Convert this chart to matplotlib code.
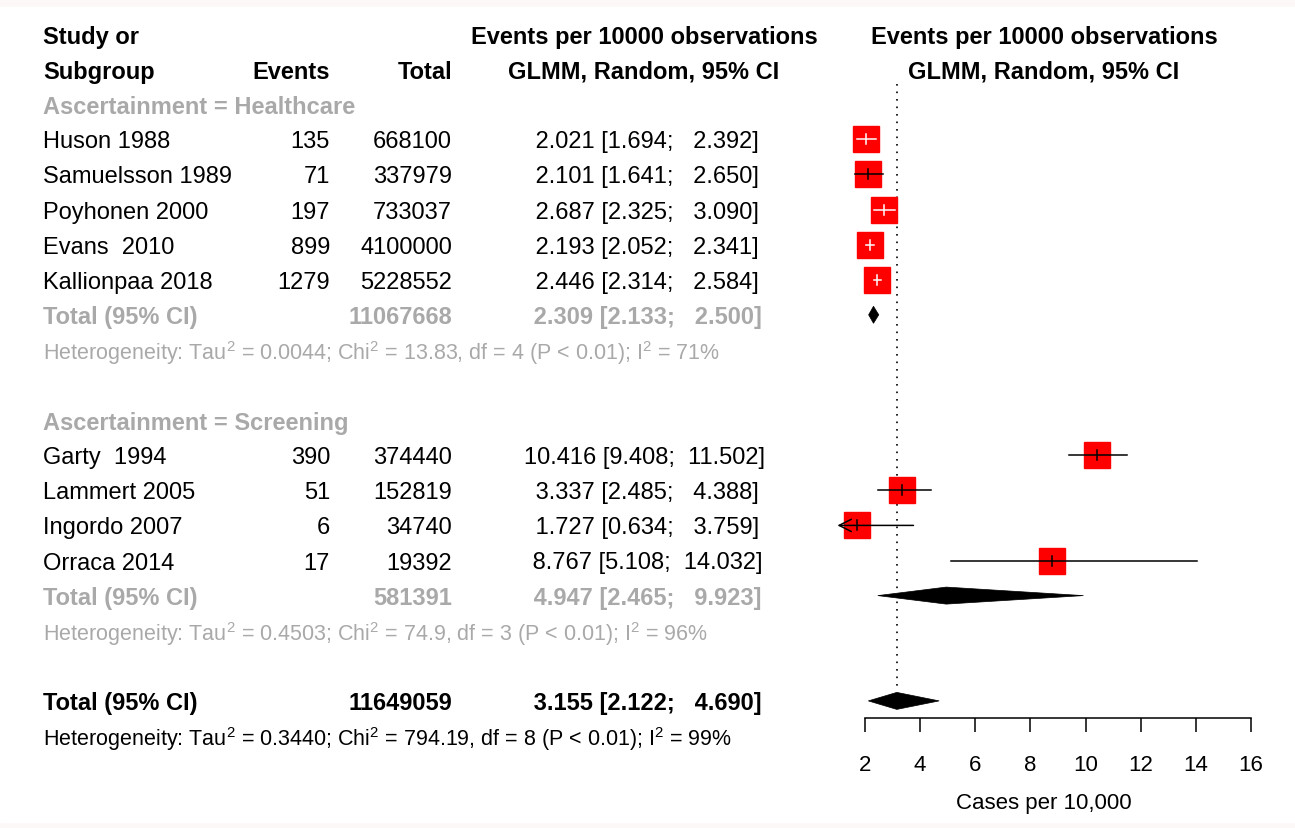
import matplotlib
matplotlib.use("Agg")
import matplotlib.pyplot as plt
from matplotlib import patches

plt.rcParams['font.family'] = ['Liberation Sans', 'DejaVu Sans']
plt.rcParams['mathtext.fontset'] = 'custom'
plt.rcParams['mathtext.rm'] = 'Liberation Sans'
plt.rcParams['mathtext.it'] = 'Liberation Sans'

GRAY = '#a9a9a9'

# data
groups = ["Healthcare", "Screening"]
studies = [
    ["Huson 1988", "Samuelsson 1989", "Poyhonen 2000", "Evans  2010", "Kallionpaa 2018"],
    ["Garty  1994", "Lammert 2005", "Ingordo 2007", "Orraca 2014"],
]
events = [[135, 71, 197, 899, 1279], [390, 51, 6, 17]]
totals = [[668100, 337979, 733037, 4100000, 5228552], [374440, 152819, 34740, 19392]]
est = [[2.021, 2.101, 2.687, 2.193, 2.446], [10.416, 3.337, 1.727, 8.767]]
lower = [[1.694, 1.641, 2.325, 2.052, 2.314], [9.408, 2.485, 0.634, 5.108]]
upper = [[2.392, 2.650, 3.090, 2.341, 2.584], [11.502, 4.388, 3.759, 14.032]]

sub_total_n = [11067668, 581391]
sub_est = [2.309, 4.947]
sub_lower = [2.133, 2.465]
sub_upper = [2.500, 9.923]
sub_het = [
    r"Heterogeneity: Tau$^2$ = 0.0044; Chi$^2$ = 13.83, df = 4 (P < 0.01); I$^2$ = 71%",
    r"Heterogeneity: Tau$^2$ = 0.4503; Chi$^2$ = 74.9, df = 3 (P < 0.01); I$^2$ = 96%",
]
all_n = 11649059
all_est, all_lower, all_upper = 3.155, 2.122, 4.690
all_het = r"Heterogeneity: Tau$^2$ = 0.3440; Chi$^2$ = 794.19, df = 8 (P < 0.01); I$^2$ = 99%"

xticks = [2, 4, 6, 8, 10, 12, 14, 16]
xmin, xmax = 1, 16

W, H = 1295, 829
fig = plt.figure(figsize=(W / 100, H / 100), dpi=100)
fig.patch.set_facecolor('#fcf8f7')
bg = fig.add_axes([0, 0, 1, 1])
bg.set_xlim(0, W)
bg.set_ylim(H, 0)
bg.axis('off')
bg.add_patch(patches.Rectangle((0, 8), W, 815, color='white', zorder=0))

# forest panel: x in data units, y in pixel rows
px0, px1 = 837.4, 1251
fa = fig.add_axes([px0 / W, 0, (px1 - px0) / W, 1])
fa.set_xlim(xmin, xmax)
fa.set_ylim(H, 0)
fa.patch.set_alpha(0)
for s in ['top', 'left', 'right']:
    fa.spines[s].set_visible(False)
fa.spines['bottom'].set_position(('data', 719))
fa.spines['bottom'].set_bounds(xticks[0], xticks[-1])
fa.spines['bottom'].set_linewidth(1.1)
fa.set_yticks([])
fa.set_xticks(xticks)
fa.tick_params(axis='x', direction='out', length=10, width=1.1, pad=16, labelsize=16)
fa.set_xlabel("Cases per 10,000", fontsize=16, labelpad=12)

FS = 17
HFS = 15.5
ROW0, DY = 35, 35.1
TXT_DY = 2  # text sits slightly below the mark centre


def ry(i):
    return ROW0 + DY * i


def ci_text(e, lo, hi):
    return f"{e:6.3f} [{lo:.3f}; {hi:7.3f}]"


def txt(x, row, s, ha='left', color='black', weight='normal', size=FS):
    bg.text(x, ry(row) + TXT_DY, s, ha=ha, va='center', color=color, fontweight=weight,
            fontsize=size)


# header
txt(43, 0, "Study or", weight='bold')
txt(43, 1, "Subgroup", weight='bold')
txt(330, 1, "Events", ha='right', weight='bold')
txt(452, 1, "Total", ha='right', weight='bold')
txt(644, 0, "Events per 10000 observations", ha='center', weight='bold')
txt(644, 1, "GLMM, Random, 95% CI", ha='center', weight='bold')
txt(1044, 0, "Events per 10000 observations", ha='center', weight='bold')
txt(1044, 1, "GLMM, Random, 95% CI", ha='center', weight='bold')

SQ = 19.4  # square marker size in points


def diamond(e, lo, hi, y):
    fa.add_patch(patches.Polygon([(lo, y), (e, y - 8.5), (hi, y), (e, y + 8.5)],
                                 closed=True, color='black', lw=0.5, zorder=3))


row = 2
for g in range(len(groups)):
    txt(43, row, f"Ascertainment = {groups[g]}", color=GRAY, weight='bold')
    row += 1
    for i, name in enumerate(studies[g]):
        y = ry(row)
        txt(43, row, name)
        txt(330, row, str(events[g][i]), ha='right')
        txt(452, row, str(totals[g][i]), ha='right')
        txt(644, row, ci_text(est[g][i], lower[g][i], upper[g][i]), ha='center')
        e, lo, hi = est[g][i], lower[g][i], upper[g][i]
        fa.plot([e], [y], marker='s', ms=SQ, color='#ff0000', mec='#ff0000', zorder=2)
        half = 0.49
        inside = (e - lo) < half and (hi - e) < half
        lc = 'white' if inside else 'black'
        if lo < xmin:
            fa.annotate('', xy=(xmin, y), xytext=(hi, y), zorder=4,
                        arrowprops=dict(arrowstyle='->', lw=1.1, color=lc,
                                        shrinkA=0, shrinkB=0, mutation_scale=22))
        else:
            fa.plot([lo, hi], [y, y], color=lc, lw=1.1, zorder=4)
        fa.plot([e, e], [y - 5, y + 5], color=lc, lw=1.1, zorder=4)
        row += 1
    txt(43, row, "Total (95% CI)", color=GRAY, weight='bold')
    txt(452, row, str(sub_total_n[g]), ha='right', color=GRAY, weight='bold')
    txt(644, row, ci_text(sub_est[g], sub_lower[g], sub_upper[g]), ha='center',
        color=GRAY, weight='bold')
    diamond(sub_est[g], sub_lower[g], sub_upper[g], ry(row))
    row += 1
    txt(43, row, sub_het[g], color=GRAY, size=HFS)
    row += 2

txt(43, row, "Total (95% CI)", weight='bold')
txt(452, row, str(all_n), ha='right', weight='bold')
txt(644, row, ci_text(all_est, all_lower, all_upper), ha='center', weight='bold')
diamond(all_est, all_lower, all_upper, ry(row))
txt(43, row + 1, all_het, size=HFS)

# reference line at overall estimate
fa.plot([all_est, all_est], [85, 688], color='black', lw=1.2, ls=(0, (1, 3.5)), zorder=1)

fig.savefig("out.png", dpi=100)
